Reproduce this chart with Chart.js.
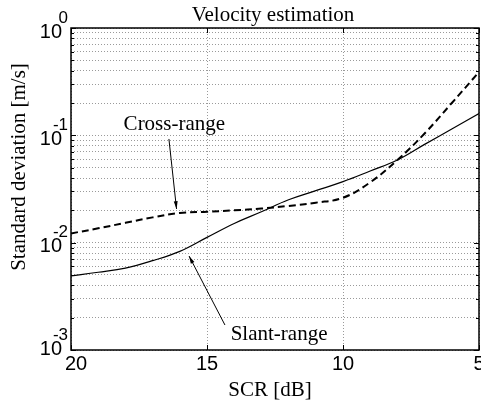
<!DOCTYPE html>
<html>
<head>
<meta charset="utf-8">
<script src="https://cdn.jsdelivr.net/npm/chart.js@4"></script>
<style>
  body { margin: 0; background: #fff; }
  canvas { display: block; }
</style>
</head>
<body>
<canvas id="myChart" width="481" height="402"></canvas>
<script>
const ctx = document.getElementById('myChart')

// SCR in dB (x axis runs from 20 down to 5)
const scr = [20, 19, 18, 17, 16, 15, 14, 13, 12, 11, 10, 9, 8, 7, 6, 5]
const slantRange = [0.0049, 0.0053, 0.0058, 0.0068, 0.0083, 0.0112, 0.0151, 0.0194, 0.0251, 0.0305, 0.037, 0.0465, 0.0589, 0.0824, 0.1146, 0.1597]
const crossRange = [0.0122, 0.0136, 0.0153, 0.0172, 0.0189, 0.0194, 0.02, 0.0208, 0.022, 0.0236, 0.0262, 0.0365, 0.0589, 0.104, 0.2, 0.389]

const xTicks = [20, 15, 10, 5]
const yExponents = [0, -1, -2, -3]

// annotations: text position and arrow (tail -> head), in data units
const labelNames = ['Cross-range', 'Slant-range']
const labelAt = [[16.2, 0.112], [12.35, 0.00124]]
const arrowFrom = [[16.4, 0.0925], [14.34, 0.00171]]
const arrowTo = [[16.12, 0.0206], [15.66, 0.00751]]

const serif = '"Liberation Serif", "Times New Roman", serif'
const sans = '"Liberation Sans", Arial, sans-serif'

function arrow(c, x1, y1, x2, y2) {
  const a = Math.atan2(y2 - y1, x2 - x1)
  c.beginPath()
  c.moveTo(x1, y1)
  c.lineTo(x2, y2)
  c.stroke()
  c.beginPath()
  c.moveTo(x2, y2)
  c.lineTo(x2 - 8 * Math.cos(a - 0.25), y2 - 8 * Math.sin(a - 0.25))
  c.lineTo(x2 - 8 * Math.cos(a + 0.25), y2 - 8 * Math.sin(a + 0.25))
  c.closePath()
  c.fill()
}

const decorations = {
  id: 'decorations',
  afterDraw(chart) {
    const c = chart.ctx
    const { left, right, top, bottom } = chart.chartArea
    const xs = chart.scales.x
    const ys = chart.scales.y
    c.save()
    c.fillStyle = '#000'
    c.strokeStyle = '#000'

    // inward tick marks
    c.lineWidth = 1
    c.beginPath()
    xTicks.forEach(v => {
      const px = Math.round(xs.getPixelForValue(v)) + 0.5
      c.moveTo(px, bottom); c.lineTo(px, bottom - 5)
      c.moveTo(px, top); c.lineTo(px, top + 5)
    })
    ys.ticks.forEach(t => {
      const py = Math.round(ys.getPixelForValue(t.value)) + 0.5
      const len = t.major ? 5 : 3
      c.moveTo(left, py); c.lineTo(left + len, py)
      c.moveTo(right, py); c.lineTo(right - len, py)
    })
    c.stroke()

    // frame
    c.lineWidth = 1.5
    c.strokeRect(left, top, right - left, bottom - top)

    // x tick labels
    c.font = '20px ' + sans
    c.textAlign = 'center'
    c.textBaseline = 'alphabetic'
    xTicks.forEach(v => {
      const px = Math.max(xs.getPixelForValue(v), left + 5)
      c.fillText(String(v), px, bottom + 20)
    })

    // y tick labels as 10 with superscript exponent
    yExponents.forEach(e => {
      const py = ys.getPixelForValue(Math.pow(10, e))
      const base = Math.min(py + 9.5, bottom + 5)
      c.textAlign = 'right'
      c.font = '20px ' + sans
      c.fillText('10', left - 9, base)
      c.font = '17px ' + sans
      c.fillText(String(e), left - 3, base - 15)
    })

    // title and axis titles
    c.font = '21px ' + serif
    c.textAlign = 'center'
    c.fillText('Velocity estimation', (left + right) / 2 - 2, top - 7)
    c.fillText('SCR [dB]', (left + right) / 2 - 5, bottom + 46)
    c.save()
    c.translate(19, (top + bottom) / 2 - 22)
    c.rotate(-Math.PI / 2)
    c.textBaseline = 'middle'
    c.fillText('Standard deviation [m/s]', 0, 0)
    c.restore()

    // annotations
    c.lineWidth = 1
    labelNames.forEach((name, i) => {
      c.font = '21px ' + serif
      c.textAlign = 'center'
      c.fillText(name, xs.getPixelForValue(labelAt[i][0]), ys.getPixelForValue(labelAt[i][1]))
      arrow(c,
        xs.getPixelForValue(arrowFrom[i][0]), ys.getPixelForValue(arrowFrom[i][1]),
        xs.getPixelForValue(arrowTo[i][0]), ys.getPixelForValue(arrowTo[i][1]))
    })
    c.restore()
  }
}

new Chart(ctx, {
  type: 'line',
  data: {
    datasets: [
      {
        label: 'Slant-range',
        data: scr.map((x, i) => ({ x: x, y: slantRange[i] })),
        borderColor: '#000',
        borderWidth: 1.2,
        pointRadius: 0,
        tension: 0.4,
        fill: false,
      },
      {
        label: 'Cross-range',
        data: scr.map((x, i) => ({ x: x, y: crossRange[i] })),
        borderColor: '#000',
        borderWidth: 2,
        borderDash: [7, 4],
        pointRadius: 0,
        tension: 0.4,
        fill: false,
      },
    ],
  },
  options: {
    responsive: false,
    animation: false,
    events: [],
    layout: { padding: { left: 71, top: 28, right: 2, bottom: 52 } },
    plugins: { legend: { display: false }, title: { display: false }, tooltip: { enabled: false } },
    scales: {
      x: {
        type: 'linear',
        reverse: true,
        min: 5,
        max: 20,
        ticks: { display: false, stepSize: 5 },
        grid: { color: '#9a9a9a', drawTicks: false, lineWidth: 1 },
        border: { display: false, dash: [1, 2] },
      },
      y: {
        type: 'logarithmic',
        min: 0.001,
        max: 1,
        afterBuildTicks(scale) {
          const ticks = []
          yExponents.slice().reverse().forEach(e => {
            for (let m = 1; m < 10; m++) {
              if (e === 0 && m > 1) break
              ticks.push({ value: +(m * Math.pow(10, e)).toPrecision(3), major: m === 1 })
            }
          })
          scale.ticks = ticks
        },
        ticks: { display: false },
        grid: { color: '#9a9a9a', drawTicks: false, lineWidth: 1 },
        border: { display: false, dash: [1, 2] },
      },
    },
  },
  plugins: [decorations],
})
</script>
</body>
</html>
